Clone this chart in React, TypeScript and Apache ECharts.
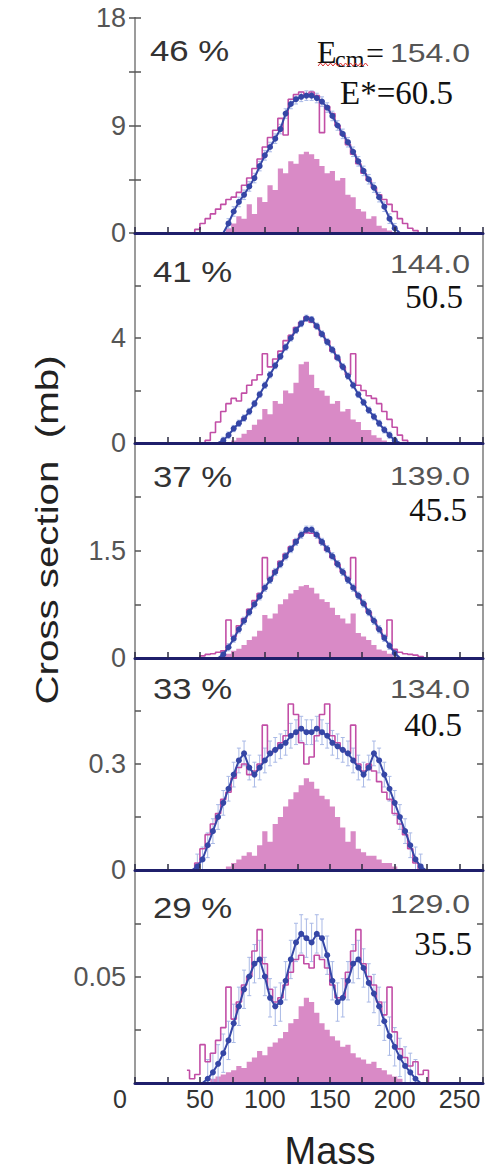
import React, { useEffect, useRef } from "react";
import * as echarts from "echarts";

// Mass bin centres (4 mass units wide)
const masses = [
  40, 44, 48, 52, 56, 60, 64, 68,
  72, 76, 80, 84, 88, 92, 96, 100,
  104, 108, 112, 116, 120, 124, 128, 132,
  136, 140, 144, 148, 152, 156, 160, 164,
  168, 172, 176, 180, 184, 188, 192, 196,
  200, 204, 208, 212, 216, 220, 224, 228,
];

// Experimental points (blue)
const expPanel1 = [
  0, 0, 0, 0, 0, 0, 0, 0,
  0.8, 1.8, 2.6, 3.2, 3.9, 4.6, 5.6, 6.5,
  7.2, 7.9, 8.7, 10.0, 10.8, 11.2, 11.4, 11.5,
  11.5, 11.3, 11.0, 10.5, 9.8, 9.0, 8.3, 7.6,
  6.8, 6.0, 5.2, 4.5, 3.8, 3.0, 2.2, 1.2,
  0.4, 0, 0, 0, 0, 0, 0, 0,
];
const expPanel2 = [
  0, 0, 0, 0, 0, 0, 0, 0.1,
  0.3, 0.55, 0.75, 0.95, 1.2, 1.5, 1.85, 2.2,
  2.6, 2.95, 3.3, 3.65, 4.0, 4.3, 4.55, 4.75,
  4.7, 4.45, 4.15, 3.85, 3.55, 3.25, 2.9, 2.55,
  2.2, 1.85, 1.55, 1.25, 1.0, 0.75, 0.5, 0.3,
  0.1, 0, 0, 0, 0, 0, 0, 0,
];
const expPanel3 = [
  0, 0, 0, 0, 0, 0, 0, 0.05,
  0.15, 0.27, 0.4, 0.52, 0.64, 0.75, 0.86, 0.98,
  1.09, 1.2, 1.31, 1.42, 1.52, 1.62, 1.72, 1.79,
  1.79, 1.72, 1.62, 1.52, 1.42, 1.31, 1.2, 1.09,
  0.98, 0.87, 0.76, 0.64, 0.52, 0.4, 0.28, 0.17,
  0.07, 0, 0, 0, 0, 0, 0, 0,
];
const expPanel4 = [
  0, 0, 0.01, 0.03, 0.07, 0.11, 0.15, 0.19,
  0.23, 0.27, 0.31, 0.33, 0.29, 0.27, 0.29, 0.31,
  0.33, 0.34, 0.35, 0.36, 0.38, 0.39, 0.4, 0.39,
  0.39, 0.4, 0.39, 0.38, 0.36, 0.35, 0.34, 0.33,
  0.31, 0.29, 0.27, 0.29, 0.33, 0.31, 0.27, 0.23,
  0.19, 0.15, 0.11, 0.07, 0.03, 0.01, 0, 0,
];
const expPanel5 = [
  0, 0, 0, 0, 0.002, 0.005, 0.009, 0.014,
  0.02, 0.028, 0.036, 0.044, 0.05, 0.056, 0.058, 0.05,
  0.04, 0.036, 0.038, 0.048, 0.058, 0.066, 0.07, 0.068,
  0.066, 0.07, 0.068, 0.06, 0.048, 0.038, 0.04, 0.048,
  0.056, 0.058, 0.054, 0.047, 0.042, 0.036, 0.029, 0.022,
  0.017, 0.012, 0.008, 0.005, 0.002, 0, 0, 0,
];

// Calculation, step outline (magenta)
const stepPanel1 = [
  0, 0, 0.3, 0.8, 1.2, 1.6, 2.0, 2.4,
  2.8, 3.0, 3.4, 4.0, 4.6, 5.4, 6.2, 7.2,
  8.0, 8.6, 9.6, 8.2, 11.2, 11.6, 11.8, 11.6,
  11.8, 11.5, 8.4, 10.6, 10.0, 9.0, 8.2, 7.4,
  6.6, 5.8, 5.0, 4.4, 3.8, 3.2, 2.8, 2.4,
  1.8, 1.2, 0.8, 0.4, 0.2, 0, 0, 0,
];
const stepPanel2 = [
  0, 0, 0, 0, 0.1, 0.4, 0.8, 1.2,
  1.5, 1.7, 1.6, 1.9, 2.2, 2.4, 2.6, 3.4,
  2.9, 3.2, 3.5, 3.9, 4.1, 4.4, 4.6, 4.8,
  4.6, 4.4, 4.1, 3.9, 3.5, 3.2, 2.9, 2.6,
  3.4, 2.2, 2.0, 1.8, 1.7, 1.5, 1.2, 0.9,
  0.6, 0.3, 0.1, 0, 0, 0, 0, 0,
];
const stepPanel3 = [
  0, 0, 0, 0.03, 0.05, 0.06, 0.08, 0.1,
  0.53, 0.3, 0.45, 0.55, 0.68, 0.8, 0.9, 1.4,
  1.1, 1.22, 1.35, 1.45, 1.55, 1.65, 1.72, 1.75,
  1.74, 1.7, 1.6, 1.5, 1.4, 1.3, 1.2, 1.1,
  1.4, 0.88, 0.76, 0.64, 0.52, 0.4, 0.3, 0.53,
  0.12, 0.08, 0.06, 0.05, 0.04, 0.02, 0, 0,
];
const stepPanel4 = [
  0, 0, 0.02, 0.06, 0.1, 0.13, 0.16, 0.2,
  0.22, 0.26, 0.29, 0.3, 0.27, 0.28, 0.3, 0.41,
  0.33, 0.34, 0.36, 0.38, 0.47, 0.44, 0.36, 0.3,
  0.32, 0.38, 0.44, 0.47, 0.38, 0.36, 0.34, 0.33,
  0.41, 0.3, 0.28, 0.3, 0.28, 0.25, 0.22, 0.2,
  0.16, 0.13, 0.1, 0.06, 0.02, 0, 0, 0,
];
const stepPanel5 = [
  0.006, 0.002, 0.004, 0.018, 0.01, 0.014, 0.02, 0.026,
  0.045, 0.03, 0.038, 0.046, 0.05, 0.062, 0.072, 0.056,
  0.044, 0.038, 0.04, 0.046, 0.052, 0.058, 0.06, 0.056,
  0.054, 0.06, 0.058, 0.054, 0.046, 0.04, 0.04, 0.052,
  0.062, 0.072, 0.056, 0.05, 0.046, 0.038, 0.032, 0.045,
  0.024, 0.016, 0.012, 0.008, 0.01, 0.004, 0.006, 0,
];

// Filled histogram (pink)
const fillPanel1 = [
  0, 0, 0, 0, 0, 0, 0, 0,
  0.4, 0.8, 1.4, 1.2, 2.4, 1.6, 3.0, 2.6,
  4.0, 3.6, 5.4, 5.0, 6.0, 5.8, 6.6, 6.8,
  6.6, 6.2, 5.6, 5.0, 5.2, 4.4, 4.6, 3.2,
  3.0, 2.0, 1.8, 1.2, 1.4, 0.6, 0.4, 0.2,
  0, 0, 0, 0, 0, 0, 0, 0,
];
const fillPanel2 = [
  0, 0, 0, 0, 0, 0, 0, 0,
  0, 0.1, 0.2, 0.35, 0.5, 0.7, 0.9, 1.3,
  1.1, 1.6, 1.5, 2.0, 1.9, 2.3, 3.0, 3.1,
  2.6, 2.1, 2.0, 1.8, 1.5, 1.6, 1.2, 1.3,
  0.9, 0.8, 0.5, 0.5, 0.3, 0.2, 0.1, 0,
  0, 0, 0, 0, 0, 0, 0, 0,
];
const fillPanel3 = [
  0, 0, 0, 0, 0, 0, 0, 0.04,
  0.06, 0.1, 0.13, 0.18, 0.25, 0.3, 0.38, 0.6,
  0.55, 0.62, 0.75, 0.82, 0.9, 0.95, 1.0, 1.02,
  0.98, 0.9, 0.82, 0.78, 0.7, 0.6, 0.55, 0.48,
  0.62, 0.35, 0.3, 0.25, 0.18, 0.12, 0.1, 0.06,
  0.04, 0, 0, 0, 0, 0, 0, 0,
];
const fillPanel4 = [
  0, 0, 0, 0, 0, 0, 0, 0,
  0.01, 0.02, 0.03, 0.04, 0.05, 0.04, 0.07, 0.11,
  0.08, 0.13, 0.15, 0.18, 0.2, 0.22, 0.24, 0.26,
  0.25, 0.23, 0.21, 0.2, 0.18, 0.15, 0.12, 0.08,
  0.11, 0.06, 0.05, 0.04, 0.04, 0.03, 0.02, 0.02,
  0.01, 0, 0, 0, 0, 0, 0, 0,
];
const fillPanel5 = [
  0, 0, 0, 0, 0, 0.002, 0.003, 0.004,
  0.005, 0.006, 0.008, 0.007, 0.01, 0.012, 0.015, 0.013,
  0.017, 0.019, 0.021, 0.024, 0.028, 0.03, 0.036, 0.04,
  0.038, 0.033, 0.028, 0.025, 0.022, 0.02, 0.017, 0.018,
  0.014, 0.012, 0.011, 0.009, 0.01, 0.007, 0.006, 0.004,
  0.003, 0.002, 0, 0, 0, 0, 0, 0,
];

const expData = [expPanel1, expPanel2, expPanel3, expPanel4, expPanel5];
const stepData = [stepPanel1, stepPanel2, stepPanel3, stepPanel4, stepPanel5];
const fillData = [fillPanel1, fillPanel2, fillPanel3, fillPanel4, fillPanel5];
const errorHalfWidth = [0.4, 0.12, 0.05, 0.035, 0.009];

const yMax = [18, 8, 3, 0.6, 0.1];
// the bottom panel's 0 is shared with the mass axis
const yTickLabels = [[0, 9, 18], [0, 4], [0, 1.5], [0, 0.3], [0.05]];
const xTickLabels = [0, 50, 100, 150, 200, 250];
const percentLabels = ["46 %", "41 %", "37 %", "33 %", "29 %"];
const ecmLabels = ["154.0", "144.0", "139.0", "134.0", "129.0"];
const eStarLabels = ["E*=60.5", "50.5", "45.5", "40.5", "35.5"];

// layout
const panelTops = [18, 233, 443, 658, 870];
const panelBottoms = [233, 443, 658, 870, 1083];
const pctY = [51, 272, 477, 689, 908];
const ecmY = [53, 264, 476, 689, 904];
const eStarY = [93, 297, 510, 725, 944];
const eStarRight = [453, 463, 467, 462, 472];

const ARIAL = '"Liberation Sans", Arial, sans-serif';
const TIMES = '"Liberation Serif", "Times New Roman", serif';

export default function App() {
  const ref = useRef<HTMLDivElement>(null);
  useEffect(() => {
    if (!ref.current) return;
    const chart = echarts.init(ref.current, undefined, { renderer: "svg" });
    const n = 5;
    const grids = [];
    const xAxes: any[] = [];
    const yAxes: any[] = [];
    const series: any[] = [];
    for (let p = 0; p < n; p++) {
      grids.push({ left: 135, width: 348, top: panelTops[p], height: panelBottoms[p] - panelTops[p] });
      xAxes.push({
        type: "value", gridIndex: p, min: 0, max: 268, interval: 25, position: "bottom", z: 10,
        axisLine: { show: true, onZero: false, lineStyle: { color: "#1f1f6b", width: 3 } },
        axisTick: { show: true, inside: true, length: 6, lineStyle: { color: "#2a2a40", width: 1.5 } },
        axisLabel: p === n - 1
          ? {
              show: true, margin: 3, color: "#333", fontSize: 25, fontFamily: ARIAL,
              formatter: (v: number) => {
                if (v === 0) return "{z|0}";
                return xTickLabels.indexOf(v) >= 0 ? String(v) : "";
              },
              rich: { z: { padding: [0, 30, 0, 0], fontSize: 25, fontFamily: ARIAL, color: "#333" } },
            }
          : { show: false },
        splitLine: { show: false },
      });
      const fmt = (v: number) => {
        const hit = yTickLabels[p].find((t) => Math.abs(t - v) < yMax[p] * 1e-6);
        return hit === undefined ? "" : String(hit);
      };
      yAxes.push({
        type: "value", gridIndex: p, min: 0, max: yMax[p], interval: yMax[p] / 4, position: "left",
        axisLine: { show: true, lineStyle: { color: "#9b9b9b", width: 2 } },
        axisTick: { show: true, inside: true, length: 6, lineStyle: { color: "#555", width: 1.5 } },
        axisLabel: { show: true, formatter: fmt, color: "#555", fontSize: 27, fontFamily: ARIAL, margin: 9 },
        splitLine: { show: false },
      });
    }
    for (let p = 0; p < n; p++) {
      yAxes.push({
        type: "value", gridIndex: p, min: 0, max: yMax[p], interval: yMax[p] / 4, position: "right",
        axisLine: { show: true, lineStyle: { color: "#9b9b9b", width: 2 } },
        axisTick: { show: true, inside: true, length: 6, lineStyle: { color: "#555", width: 1.5 } },
        axisLabel: { show: false },
        splitLine: { show: false },
      });
    }
    xAxes.push({
      type: "value", gridIndex: 0, min: 0, max: 268, position: "top",
      axisLine: { show: true, lineStyle: { color: "#9b9b9b", width: 2 } },
      axisTick: { show: false }, axisLabel: { show: false }, splitLine: { show: false },
    });

    for (let p = 0; p < n; p++) {
      series.push({
        type: "line", step: "middle", xAxisIndex: p, yAxisIndex: p, z: 1,
        data: masses.map((m, i) => [m, fillData[p][i]]),
        symbol: "none", lineStyle: { width: 0, color: "#d98ac6" },
        areaStyle: { color: "#d98ac6", opacity: 1 },
      });
      series.push({
        type: "custom", xAxisIndex: p, yAxisIndex: p, z: 2,
        data: masses.map((m, i) => [m, expData[p][i], errorHalfWidth[p]]).filter((d) => d[1] > 0),
        encode: { x: 0, y: 1 },
        renderItem: (params: any, api: any) => {
          const x = api.value(0), y = api.value(1), e = api.value(2);
          const a = api.coord([x, y + e]);
          const b = api.coord([x, Math.max(0, y - e)]);
          const st = { stroke: "#a9b9e6", lineWidth: 1 };
          return {
            type: "group",
            children: [
              { type: "line", shape: { x1: a[0], y1: a[1], x2: b[0], y2: b[1] }, style: st },
              { type: "line", shape: { x1: a[0] - 2, y1: a[1], x2: a[0] + 2, y2: a[1] }, style: st },
              { type: "line", shape: { x1: b[0] - 2, y1: b[1], x2: b[0] + 2, y2: b[1] }, style: st },
            ],
          };
        },
      });
      series.push({
        type: "line", step: "middle", xAxisIndex: p, yAxisIndex: p, z: 3,
        data: masses.map((m, i) => [m, stepData[p][i]]),
        symbol: "none", lineStyle: { width: 1.6, color: "#c24ea6" },
      });
      series.push({
        type: "line", xAxisIndex: p, yAxisIndex: p, z: 4,
        data: masses.map((m, i) => [m, expData[p][i]]),
        symbol: "circle",
        symbolSize: (v: number[]) => (v[1] > 0 ? 6 : 0),
        itemStyle: { color: "#3546a6" },
        lineStyle: { width: 2, color: "#3546a6" },
      });
    }

    const graphics: any[] = [];
    for (let p = 0; p < n; p++) {
      graphics.push({
        type: "text", x: p === 0 ? 150 : 153, y: pctY[p], scaleX: 1.2, z: 100,
        style: { text: percentLabels[p], font: `29px ${ARIAL}`, fill: "#333", textAlign: "left", textVerticalAlign: "middle" },
      });
      graphics.push({
        type: "text", x: 470, y: ecmY[p], scaleX: 1.28, z: 100,
        style: { text: ecmLabels[p], font: `25px ${ARIAL}`, fill: "#555", textAlign: "right", textVerticalAlign: "middle" },
      });
      graphics.push({
        type: "text", x: eStarRight[p], y: eStarY[p], z: 100,
        style: { text: eStarLabels[p], font: `33px ${TIMES}`, fill: "#111", textAlign: "right", textVerticalAlign: "middle" },
      });
    }
    // E_cm= prefix in the first panel
    graphics.push({
      type: "text", x: 317, y: 52, z: 100,
      style: { text: "E", font: `32px ${TIMES}`, fill: "#111", textAlign: "left", textVerticalAlign: "middle" },
    });
    graphics.push({
      type: "text", x: 335, y: 59, z: 100,
      style: { text: "cm", font: `24px ${TIMES}`, fill: "#111", textAlign: "left", textVerticalAlign: "middle" },
    });
    graphics.push({
      type: "text", x: 366, y: 53, z: 100,
      style: { text: "=", font: `32px ${TIMES}`, fill: "#111", textAlign: "left", textVerticalAlign: "middle" },
    });
    const squiggle: number[][] = [];
    for (let k = 0; k <= 20; k++) squiggle.push([318 + k * 2.5, k % 2 === 0 ? 66 : 63]);
    graphics.push({
      type: "polyline", z: 100, shape: { points: squiggle },
      style: { stroke: "#d33", lineWidth: 1, fill: null },
    });
    graphics.push({
      type: "text", x: 47, y: 530, rotation: Math.PI / 2, scaleX: 1.3, z: 100,
      style: { text: "Cross section  (mb)", font: `31px ${ARIAL}`, fill: "#222", textAlign: "center", textVerticalAlign: "middle" },
    });
    graphics.push({
      type: "text", x: 330, y: 1151, z: 100,
      style: { text: "Mass", font: `38px ${ARIAL}`, fill: "#222", textAlign: "center", textVerticalAlign: "middle" },
    });

    chart.setOption({
      animation: false,
      backgroundColor: "#fff",
      grid: grids,
      xAxis: xAxes,
      yAxis: yAxes,
      series,
      graphic: graphics,
    });
    return () => chart.dispose();
  }, []);
  return <div ref={ref} style={{ position: "fixed", left: 0, top: 0, width: 489, height: 1175 }} />;
}
